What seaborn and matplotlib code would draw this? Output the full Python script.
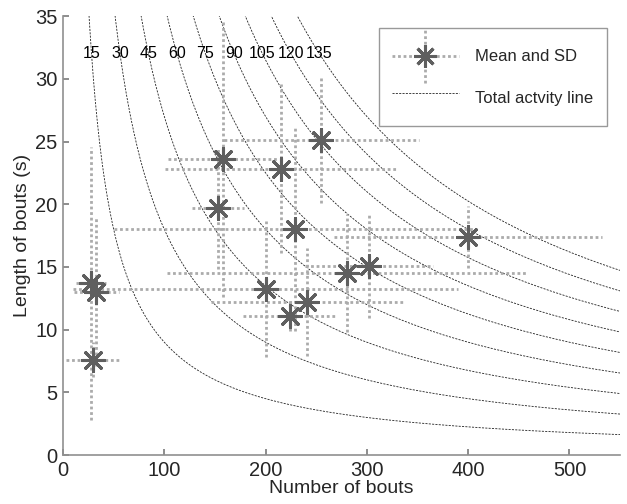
import numpy as np
import pandas as pd
import seaborn as sns
import matplotlib
matplotlib.use("Agg")
import matplotlib.pyplot as plt
from matplotlib.lines import Line2D
from matplotlib.legend_handler import HandlerBase

# mean number of bouts / mean bout length with their SDs
n_bouts = [27.5, 33, 30, 153, 158, 215, 255, 229, 200, 224, 241, 280, 302, 400]
n_bouts_sd = [15, 22, 27, 25.5, 54, 114, 96, 179, 190, 46, 95, 177, 63, 132]
bout_len = [13.7, 13.0, 7.6, 19.7, 23.6, 22.85, 25.1, 18.0, 13.25, 11.1, 12.2, 14.5, 15.1, 17.4]
bout_len_sd = [10.9, 5.9, 1.4, 4.9, 11.0, 6.7, 5.0, 8.1, 5.4, 1.2, 4.3, 4.7, 4.2, 2.45]

# total activity lines, in minutes
activity_min = [15, 30, 45, 60, 75, 90, 105, 120, 135]
label_y = 32

BAR_COLOR = "#ababab"
STAR_COLOR = "#5f5f5f"
DOTS = (0, (1, 1))
star = (8, 2, 0)


class CrossHandler(HandlerBase):
    # legend entry like the matlab one: dotted cross with an asterisk on top
    def create_artists(self, legend, orig_handle, xdescent, ydescent,
                       width, height, fontsize, trans):
        cx = width / 2 - xdescent
        cy = height / 2 - ydescent
        h = Line2D([-xdescent, width - xdescent], [cy, cy], color=BAR_COLOR,
                   lw=2.0, ls=DOTS, transform=trans)
        v = Line2D([cx, cx], [cy - height * 0.9, cy + height * 0.9], color=BAR_COLOR,
                   lw=2.0, ls=DOTS, transform=trans)
        m = Line2D([cx], [cy], ls="none", marker=star, markersize=16,
                   markeredgewidth=2.2, color=STAR_COLOR, transform=trans)
        return [h, v, m]


sns.set_theme(style="white")
plt.rcParams["font.family"] = ["Liberation Sans", "DejaVu Sans"]

df = pd.DataFrame({"bouts": n_bouts, "length": bout_len})

fig = plt.figure(figsize=(6.27, 5.04), dpi=100)
ax = fig.add_axes([0.1005, 0.097, 0.8885, 0.871])

# activity curves: bouts * length = minutes * 60
xs = np.linspace(1, 550, 1100)
for m in activity_min:
    ax.plot(xs, m * 60 / xs, color="#222222", lw=0.6, ls=(0, (2.5, 1.5)), zorder=1)
    ax.text(m * 60 / label_y, label_y, str(m), ha="center", va="center",
            fontsize=11.5, color="black")

eb = ax.errorbar(n_bouts, bout_len, xerr=n_bouts_sd, yerr=bout_len_sd,
                 fmt="none", ecolor=BAR_COLOR, elinewidth=2.0, capsize=0, zorder=2)
for coll in eb[2]:
    coll.set_linestyle(DOTS)

sns.scatterplot(data=df, x="bouts", y="length", marker=star, s=250,
                color=STAR_COLOR, linewidth=2.2, edgecolor=STAR_COLOR, ax=ax, zorder=3)

ax.set_xlim(0, 550)
ax.set_ylim(0, 35)
ax.set_xticks(range(0, 501, 100))
ax.set_yticks(range(0, 36, 5))
ax.set_xlabel("Number of bouts", fontsize=14, labelpad=0)
ax.set_ylabel("Length of bouts (s)", fontsize=14, labelpad=3)
ax.tick_params(direction="in", length=4, color="#808080", labelsize=14.5,
               bottom=True, left=True)
ax.tick_params(axis="x", pad=4)
ax.tick_params(axis="y", pad=4)
for side in ["top", "right"]:
    ax.spines[side].set_visible(False)
for side in ["left", "bottom"]:
    ax.spines[side].set_color("#909090")
    ax.spines[side].set_linewidth(1.2)

mean_proxy = Line2D([], [])
curve_proxy = Line2D([], [], color="#222222", lw=0.6, ls=(0, (2.5, 1.5)))
leg = ax.legend([mean_proxy, curve_proxy],
                ["Mean and SD", "Total actvity line"],
                handler_map={mean_proxy: CrossHandler()},
                loc="upper right", bbox_to_anchor=(0.985, 0.985),
                fontsize=12, frameon=True, fancybox=False, handlelength=4.0,
                handleheight=2.4, borderpad=0.8, labelspacing=0.7,
                handletextpad=1.0, borderaxespad=0.3)
leg.get_frame().set_edgecolor("#808080")
leg.get_frame().set_linewidth(1.0)

fig.savefig("out.png", dpi=100)
